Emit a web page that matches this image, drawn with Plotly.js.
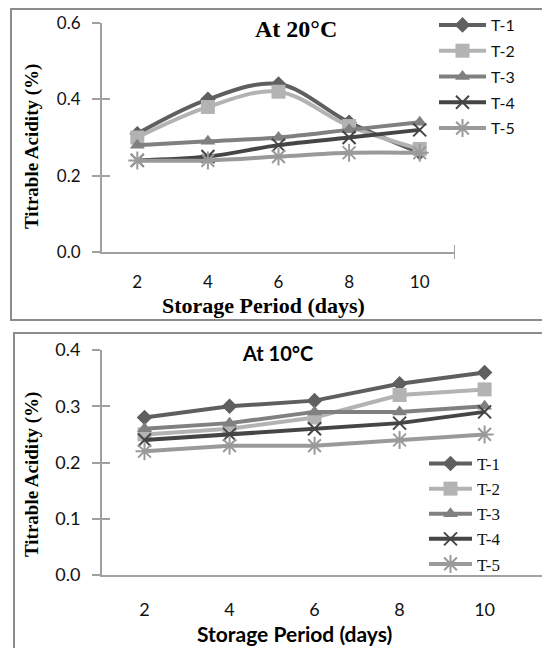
<!DOCTYPE html>
<html>
<head>
<meta charset="utf-8">
<script src="https://cdn.plot.ly/plotly-3.0.1.min.js"></script>
<style>html,body{margin:0;padding:0;background:#fff;}#chart{width:542px;height:648px;}</style>
</head>
<body>
<div id="chart"></div>
<script>
// Data
const days = [2, 4, 6, 8, 10];
const seriesNames = ["T-1", "T-2", "T-3", "T-4", "T-5"];
// At 20°C
const t1_20 = [0.31, 0.40, 0.44, 0.34, 0.26];
const t2_20 = [0.30, 0.38, 0.42, 0.33, 0.27];
const t3_20 = [0.28, 0.29, 0.30, 0.32, 0.34];
const t4_20 = [0.24, 0.25, 0.28, 0.30, 0.32];
const t5_20 = [0.24, 0.24, 0.25, 0.26, 0.26];
// At 10°C
const t1_10 = [0.28, 0.30, 0.31, 0.34, 0.36];
const t2_10 = [0.25, 0.26, 0.28, 0.32, 0.33];
const t3_10 = [0.26, 0.27, 0.29, 0.29, 0.30];
const t4_10 = [0.24, 0.25, 0.26, 0.27, 0.29];
const t5_10 = [0.22, 0.23, 0.23, 0.24, 0.25];

const W = 542, H = 648;
const px = v => v / W;
const py = v => 1 - v / H;

const SERIF = "Liberation Serif, Times New Roman, serif";
const SANS = "Lato, Open Sans, sans-serif";

const colors = ["#5f5f5f", "#b3b3b3", "#808080", "#454545", "#9a9a9a"];
const symbols = ["diamond", "square", "triangle-up", "x-thin-open", "asterisk-open"];
const msizes = [12, 14, 13, 13, 15];

function makeTraces(vals, xa, ya, legend, shape) {
  return vals.map((v, i) => {
    const open = symbols[i].indexOf("open") >= 0;
    return {
      type: "scatter", mode: "lines+markers",
      x: days, y: v, name: seriesNames[i],
      xaxis: xa, yaxis: ya, legend: legend,
      legendgroup: legend + i,
      line: {color: colors[i], width: 4, shape: shape, smoothing: 1},
      marker: {symbol: symbols[i], size: msizes[i], color: colors[i],
               line: {color: colors[i], width: open ? 2 : 0}},
      cliponaxis: false
    };
  });
}

const traces = [
  ...makeTraces([t1_20, t2_20, t3_20, t4_20, t5_20], "x", "y", "legend", "spline"),
  ...makeTraces([t1_10, t2_10, t3_10, t4_10, t5_10], "x2", "y2", "legend2", "linear"),
  // empty helper traces so the inner-tick overlay axes are drawn
  {type: "scatter", mode: "none", x: [null], y: [null], xaxis: "x", yaxis: "y3", showlegend: false, hoverinfo: "skip"},
  {type: "scatter", mode: "none", x: [null], y: [null], xaxis: "x2", yaxis: "y4", showlegend: false, hoverinfo: "skip"}
];

const axisColor = "#a0a0a0";
const tickFont = {family: SANS, size: 17, color: "#111"};
const tickFont2 = {family: SANS, size: 18, color: "#111"};

const layout = {
  width: W, height: H,
  margin: {l: 0, r: 0, t: 0, b: 0},
  paper_bgcolor: "#fff", plot_bgcolor: "rgba(0,0,0,0)",
  showlegend: true,
  xaxis: {domain: [px(102), px(455)], range: [1, 11], anchor: "y",
          showgrid: false, zeroline: false, showline: true, linecolor: axisColor, linewidth: 2,
          tickvals: days, ticks: "", ticklabelstandoff: 14, tickfont: tickFont},
  yaxis: {domain: [py(252), py(23)], range: [0, 0.6], anchor: "x", dtick: 0.2, tick0: 0,
          tickformat: ".1f", showgrid: false, zeroline: false, showline: true,
          linecolor: axisColor, linewidth: 2, ticks: "outside", ticklen: 8, tickwidth: 2,
          tickcolor: axisColor, ticklabelstandoff: 8, tickfont: tickFont},
  yaxis3: {overlaying: "y", anchor: "x", range: [0, 0.6], dtick: 0.2, tick0: 0,
           showgrid: false, zeroline: false, showline: false, showticklabels: false,
           ticks: "inside", ticklen: 8, tickwidth: 2, tickcolor: axisColor},
  xaxis2: {domain: [px(102), 1], range: [1, 11.35], anchor: "y2",
           showgrid: false, zeroline: false, showline: true, linecolor: axisColor, linewidth: 2,
           tickvals: days, ticks: "", ticklabelstandoff: 17, tickfont: tickFont2},
  yaxis2: {domain: [py(575), py(350)], range: [0, 0.4], anchor: "x2", dtick: 0.1, tick0: 0,
           tickformat: ".1f", showgrid: false, zeroline: false, showline: true,
           linecolor: axisColor, linewidth: 2, ticks: "outside", ticklen: 8, tickwidth: 2,
           tickcolor: axisColor, ticklabelstandoff: 8, tickfont: tickFont2},
  yaxis4: {overlaying: "y2", anchor: "x2", range: [0, 0.4], dtick: 0.1, tick0: 0,
           showgrid: false, zeroline: false, showline: false, showticklabels: false,
           ticks: "inside", ticklen: 8, tickwidth: 2, tickcolor: axisColor},
  legend: {x: px(434), y: py(8), xanchor: "left", yanchor: "top",
           bgcolor: "rgba(0,0,0,0)", itemwidth: 47, tracegroupgap: 2,
           font: {family: SANS, size: 16, color: "#111"}},
  legend2: {x: px(424), y: py(446), xanchor: "left", yanchor: "top",
            bgcolor: "rgba(0,0,0,0)", itemwidth: 43, tracegroupgap: 0,
            font: {family: SERIF, size: 17, color: "#111"}},
  shapes: [
    {type: "rect", xref: "paper", yref: "paper", x0: px(11), x1: 1.02, y0: py(320), y1: py(9),
     line: {color: "#8c8c8c", width: 2}},
    {type: "rect", xref: "paper", yref: "paper", x0: px(14), x1: 1.02, y0: -0.02, y1: py(333),
     line: {color: "#8c8c8c", width: 2}},
    {type: "line", xref: "x", yref: "paper", x0: 11, x1: 11, y0: py(259), y1: py(245),
     line: {color: axisColor, width: 2}}
  ],
  annotations: [
    {text: "<b>At 20°C</b>", xref: "paper", yref: "paper", x: px(296), y: py(29),
     xanchor: "center", yanchor: "middle", showarrow: false,
     font: {family: SERIF, size: 24, color: "#000"}},
    {text: "<b>Titrable Acidity (%)</b>", xref: "paper", yref: "paper", x: px(32), y: py(147),
     xanchor: "center", yanchor: "middle", textangle: -90, showarrow: false,
     font: {family: SERIF, size: 19, color: "#000"}},
    {text: "<b>Storage Period (days)</b>", xref: "paper", yref: "paper", x: px(263), y: py(305),
     xanchor: "center", yanchor: "middle", showarrow: false,
     font: {family: SERIF, size: 22, color: "#000"}},
    {text: "<b>At 10°C</b>", xref: "paper", yref: "paper", x: px(277), y: py(353),
     xanchor: "center", yanchor: "middle", showarrow: false,
     font: {family: SANS, size: 20, color: "#000"}},
    {text: "<b>Titrable Acidity (%)</b>", xref: "paper", yref: "paper", x: px(32), y: py(475),
     xanchor: "center", yanchor: "middle", textangle: -90, showarrow: false,
     font: {family: SERIF, size: 19, color: "#000"}},
    {text: "<b>Storage Period (days)</b>", xref: "paper", yref: "paper", x: px(294), y: py(633),
     xanchor: "center", yanchor: "middle", showarrow: false,
     font: {family: SANS, size: 21, color: "#000"}}
  ]
};

Plotly.newPlot("chart", traces, layout, {staticPlot: true, displayModeBar: false});
</script>
</body>
</html>
